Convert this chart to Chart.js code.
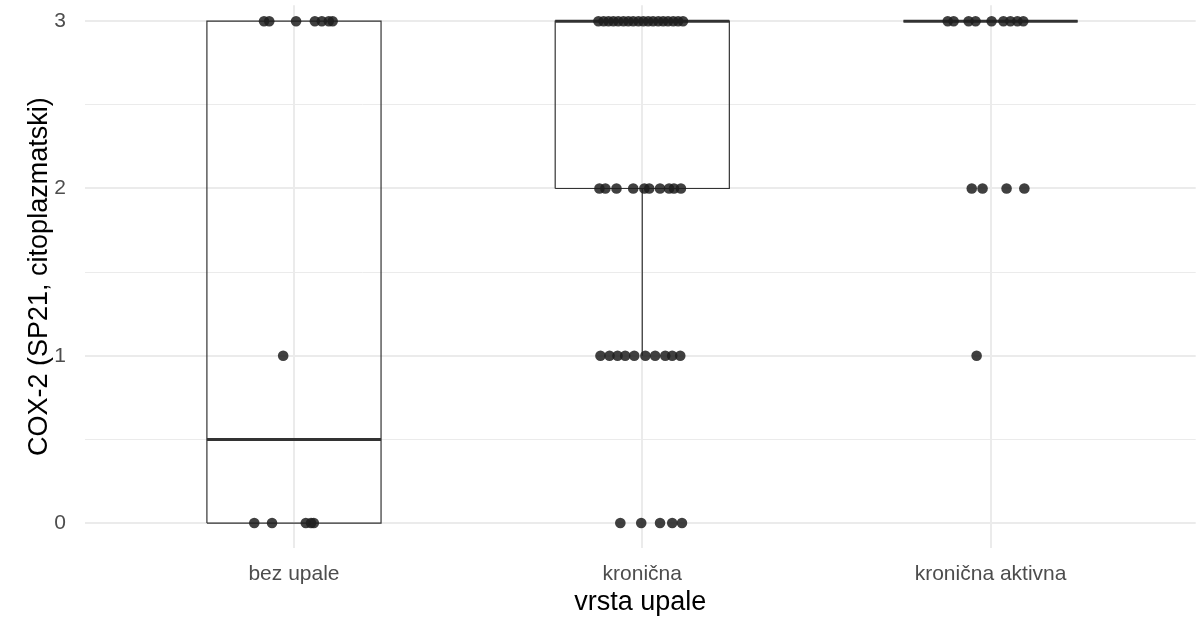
<!DOCTYPE html>
<html>
<head>
<meta charset="utf-8">
<script src="https://cdn.jsdelivr.net/npm/chart.js@4/dist/chart.umd.min.js"></script>
<style>
  html, body { margin: 0; padding: 0; background: #fff; }
  #wrap { width: 1201px; height: 619px; }
</style>
</head>
<body>
<div id="wrap"><canvas id="chart"></canvas></div>
<script>
// categories on the x axis
const categories = ['bez upale', 'kronična', 'kronična aktivna'];
const yTicks = [0, 1, 2, 3];

// box stats per category: whisker low, q1, median, q3, whisker high
const whiskerLow = [0, 1, 3];
const q1 = [0, 2, 3];
const median = [0.5, 3, 3];
const q3 = [3, 3, 3];
const whiskerHigh = [3, 3, 3];

// jittered observations: score and horizontal jitter (category units)
const bezUpaleY = [3, 3, 3, 3, 3, 3, 3, 1, 0, 0, 0, 0, 0];
const bezUpaleJitter = [-0.086, -0.071, 0.006, 0.060, 0.080, 0.100, 0.111, -0.031, -0.114, -0.063, 0.034, 0.049, 0.057];

const kronicnaY = [
  3, 3, 3, 3, 3, 3, 3, 3, 3, 3, 3, 3, 3, 3, 3, 3, 3, 3,
  2, 2, 2, 2, 2, 2, 2, 2, 2, 2,
  1, 1, 1, 1, 1, 1, 1, 1, 1, 1,
  0, 0, 0, 0, 0
];
const kronicnaJitter = [
  -0.126, -0.111, -0.097, -0.083, -0.069, -0.054, -0.040, -0.026, -0.011, 0.003, 0.017, 0.031, 0.046, 0.060, 0.074, 0.089, 0.103, 0.117,
  -0.123, -0.106, -0.074, -0.026, 0.006, 0.020, 0.051, 0.077, 0.091, 0.111,
  -0.120, -0.094, -0.071, -0.049, -0.023, 0.009, 0.037, 0.066, 0.086, 0.109,
  -0.063, -0.003, 0.051, 0.086, 0.114
];

const aktivnaY = [3, 3, 3, 3, 3, 3, 3, 3, 3, 2, 2, 2, 2, 1];
const aktivnaJitter = [-0.123, -0.106, -0.063, -0.043, 0.003, 0.037, 0.057, 0.077, 0.094, -0.054, -0.023, 0.046, 0.097, -0.040];

const groupY = [bezUpaleY, kronicnaY, aktivnaY];
const groupJitter = [bezUpaleJitter, kronicnaJitter, aktivnaJitter];

const boxHalf = 0.25;
const ink = '#333333';

// points
const points = [];
groupY.forEach((ys, g) => {
  ys.forEach((y, i) => points.push({ x: g + 1 + groupJitter[g][i], y: y }));
});

const datasets = [{
  type: 'scatter',
  data: points,
  backgroundColor: 'rgba(30,30,30,0.85)',
  borderWidth: 0,
  pointRadius: 5.3,
  pointHoverRadius: 5.3,
  order: 0
}];

const lineDs = (data, width) => ({
  type: 'scatter',
  data: data,
  showLine: true,
  borderColor: ink,
  borderWidth: width,
  pointRadius: 0,
  pointHoverRadius: 0,
  fill: false,
  spanGaps: false,
  order: 1
});

categories.forEach((c, g) => {
  const x = g + 1;
  // box outline
  datasets.push(lineDs([
    { x: x - boxHalf, y: q1[g] }, { x: x + boxHalf, y: q1[g] },
    { x: x + boxHalf, y: q3[g] }, { x: x - boxHalf, y: q3[g] },
    { x: x - boxHalf, y: q1[g] }
  ], 1.2));
  // whiskers
  datasets.push(lineDs([{ x: x, y: whiskerLow[g] }, { x: x, y: q1[g] }], 1.2));
  datasets.push(lineDs([{ x: x, y: q3[g] }, { x: x, y: whiskerHigh[g] }], 1.2));
  // median
  datasets.push(lineDs([{ x: x - boxHalf, y: median[g] }, { x: x + boxHalf, y: median[g] }], 3));
});

const gridColor = '#ebebeb';

new Chart(document.getElementById('chart').getContext('2d'), {
  type: 'scatter',
  data: { datasets: datasets },
  options: {
    responsive: true,
    maintainAspectRatio: false,
    animation: false,
    events: [],
    layout: { padding: 0 },
    plugins: {
      legend: { display: false },
      tooltip: { enabled: false }
    },
    scales: {
      x: {
        type: 'linear',
        min: 0.4,
        max: 3.589,
        afterFit: (scale) => {
          scale.height = 71;
          scale.paddingLeft = 0;
          scale.paddingRight = 0;
        },
        afterBuildTicks: (scale) => { scale.ticks = categories.map((c, i) => ({ value: i + 1 })); },
        border: { display: false },
        grid: { color: gridColor, lineWidth: 2, drawTicks: false },
        ticks: {
          padding: 14,
          color: '#4d4d4d',
          font: { family: '"Liberation Sans", Arial, sans-serif', size: 21 },
          callback: (v) => categories[Math.round(v) - 1]
        },
        title: {
          display: true,
          text: 'vrsta upale',
          color: '#000',
          padding: { top: 0, bottom: 0 },
          font: { family: '"Liberation Sans", Arial, sans-serif', size: 27 }
        }
      },
      y: {
        type: 'linear',
        min: -0.149,
        max: 3.095,
        afterFit: (scale) => {
          scale.width = 85;
          scale.paddingTop = 0;
          scale.paddingBottom = 0;
        },
        afterBuildTicks: (scale) => {
          const t = [];
          yTicks.forEach((v) => { t.push({ value: v }); if (v < yTicks[yTicks.length - 1]) t.push({ value: v + 0.5 }); });
          scale.ticks = t;
        },
        border: { display: false },
        grid: {
          color: gridColor,
          lineWidth: (ctx) => (ctx.tick && ctx.tick.value % 1 === 0 ? 2 : 1),
          drawTicks: false
        },
        ticks: {
          padding: 19,
          color: '#4d4d4d',
          font: { family: '"Liberation Sans", Arial, sans-serif', size: 21 },
          callback: (v) => (v % 1 === 0 ? String(v) : '')
        },
        title: {
          display: true,
          text: 'COX-2 (SP21, citoplazmatski)',
          color: '#000',
          padding: { top: 23, bottom: 0 },
          font: { family: '"Liberation Sans", Arial, sans-serif', size: 27 }
        }
      }
    }
  }
});
</script>
</body>
</html>
